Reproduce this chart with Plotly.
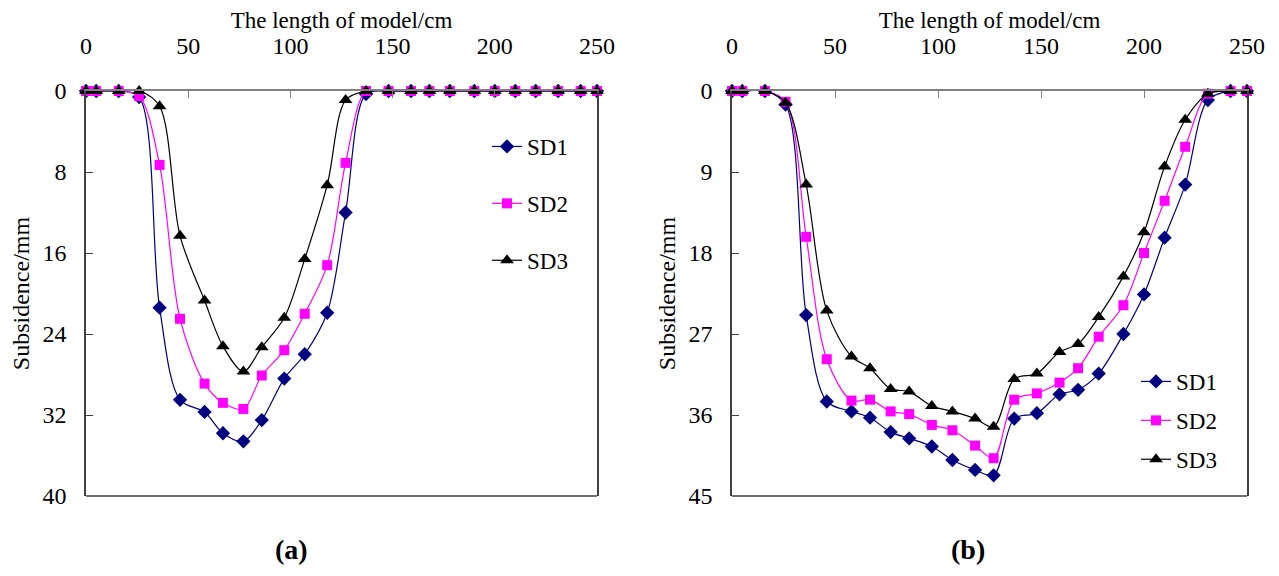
import plotly.graph_objects as go

# ---------------- data ----------------
x_cm = [0, 5, 16, 26, 36, 46, 58, 67, 77, 86, 97, 107, 118, 127, 137,
        148, 159, 168, 178, 190, 200, 210, 220, 231, 242, 250]

a_sd1 = [0, 0, 0, 0.6, 21.4, 30.5, 31.7, 33.8, 34.6, 32.5, 28.4, 26.0, 21.9, 12.0, 0.3,
         0, 0, 0, 0, 0, 0, 0, 0, 0, 0, 0]
a_sd2 = [0, 0, 0, 0.5, 7.3, 22.5, 28.9, 30.8, 31.4, 28.1, 25.6, 22.0, 17.2, 7.1, 0,
         0, 0, 0, 0, 0, 0, 0, 0, 0, 0, 0]
a_sd3 = [0, 0, 0, 0, 1.5, 14.3, 20.7, 25.2, 27.7, 25.3, 22.4, 16.6, 9.3, 0.9, 0,
         0, 0, 0, 0, 0, 0, 0, 0, 0, 0, 0]

b_sd1 = [0, 0, 0, 1.5, 24.9, 34.5, 35.6, 36.3, 37.9, 38.6, 39.5, 41.0, 42.1, 42.7,
         36.4, 35.8, 33.7, 33.2, 31.4, 27.0, 22.6, 16.3, 10.4, 1.0, 0, 0]
b_sd2 = [0, 0, 0, 1.2, 16.2, 29.8, 34.4, 34.3, 35.6, 35.9, 37.1, 37.7, 39.4, 40.8,
         34.3, 33.6, 32.4, 30.8, 27.3, 23.8, 18.0, 12.2, 6.2, 0.3, 0, 0]
b_sd3 = [0, 0, 0, 1.3, 10.4, 24.4, 29.5, 30.8, 33.1, 33.4, 35.0, 35.6, 36.4, 37.3,
         32.0, 31.4, 29.0, 28.1, 25.1, 20.6, 15.7, 8.4, 3.2, 0.3, 0, 0]

series_names = ["SD1", "SD2", "SD3"]
x_ticks = [0, 50, 100, 150, 200, 250]
a_yticks = [0, 8, 16, 24, 32, 40]
b_yticks = [0, 9, 18, 27, 36, 45]
panel_labels = ["<b>(a)</b>", "<b>(b)</b>"]

# ---------------- styles ----------------
colors = ["#000080", "#FF00FF", "#000000"]
symbols = ["diamond", "square", "triangle-up"]
msizes = [11, 10, 12]
FONT = "Liberation Serif, Times New Roman, serif"

# page body has an 8px margin: figure is sized to fit the 1279x576 window
OFF = 8
W, H = 1279 - 2 * OFF, 576 - 2 * OFF

def px(xw):
    return (xw - OFF) / W

def py(yw):
    return 1 - (yw - OFF) / H

fig = go.Figure()

for panel, (ys, xa, ya, leg) in enumerate([
        ((a_sd1, a_sd2, a_sd3), "x", "y", "legend"),
        ((b_sd1, b_sd2, b_sd3), "x2", "y2", "legend2")]):
    for i, y in enumerate(ys):
        fig.add_trace(go.Scatter(
            x=x_cm, y=y, name=series_names[i], mode="lines+markers",
            xaxis=xa, yaxis=ya, legend=leg, legendgroup=f"{panel}{i}",
            line=dict(color=colors[i], width=1.2, shape="spline", smoothing=0.9),
            marker=dict(symbol=symbols[i], size=msizes[i], color=colors[i]),
            cliponaxis=False,
        ))

T, B = py(91), py(496)

def xax(dom, anchor):
    return dict(domain=dom, anchor=anchor, side="top", range=[0, 250],
                tickvals=x_ticks, ticks="inside", ticklen=7, tickcolor="#808080",
                showline=True, linecolor="#808080", linewidth=1.5, showgrid=False,
                zeroline=False, ticklabelstandoff=26, automargin=False,
                tickfont=dict(family=FONT, size=24, color="black"),
                title=dict(text="The length of model/cm", standoff=0,
                           font=dict(family=FONT, size=23, color="black")))

def yax(rng, tv, anchor):
    return dict(domain=[B, T], anchor=anchor, range=rng, tickvals=tv,
                ticks="inside", ticklen=7, tickcolor="#404040",
                showline=True, linecolor="#404040", linewidth=1.5, mirror=True,
                showgrid=False, zeroline=False, ticklabelstandoff=13, automargin=False,
                tickfont=dict(family=FONT, size=24, color="black"),
                title=dict(text="Subsidence/mm", standoff=6,
                           font=dict(family=FONT, size=24, color="black")))

fig.update_layout(
    width=W, height=H, autosize=False,
    margin=dict(l=0, r=0, t=0, b=0),
    paper_bgcolor="white", plot_bgcolor="white",
    font=dict(family=FONT, color="black"),
    xaxis=xax([px(86), px(597)], "y"),
    yaxis=yax([40, 0], a_yticks, "x"),
    xaxis2=xax([px(732), px(1247)], "y2"),
    yaxis2=yax([45, 0], b_yticks, "x2"),
    legend=dict(x=px(487), y=py(125), xanchor="left", yanchor="top",
                bgcolor="rgba(0,0,0,0)", tracegroupgap=24,
                font=dict(family=FONT, size=23, color="black")),
    legend2=dict(x=px(1136), y=py(360), xanchor="left", yanchor="top",
                 bgcolor="rgba(0,0,0,0)", tracegroupgap=6,
                 font=dict(family=FONT, size=23, color="black")),
    showlegend=True,
)

# bottom frame lines (plot-area border)
for xr, yr in [("x domain", "y domain"), ("x2 domain", "y2 domain")]:
    fig.add_shape(type="line", xref=xr, yref=yr, x0=0, x1=1, y0=0, y1=0,
                  line=dict(color="#404040", width=1.5))

for lbl, cx in zip(panel_labels, [291, 968]):
    fig.add_annotation(text=lbl, xref="paper", yref="paper", x=px(cx), y=py(549),
                       yanchor="middle", xanchor="center",
                       showarrow=False, font=dict(family=FONT, size=28, color="black"))

fig.write_html("out.html")
